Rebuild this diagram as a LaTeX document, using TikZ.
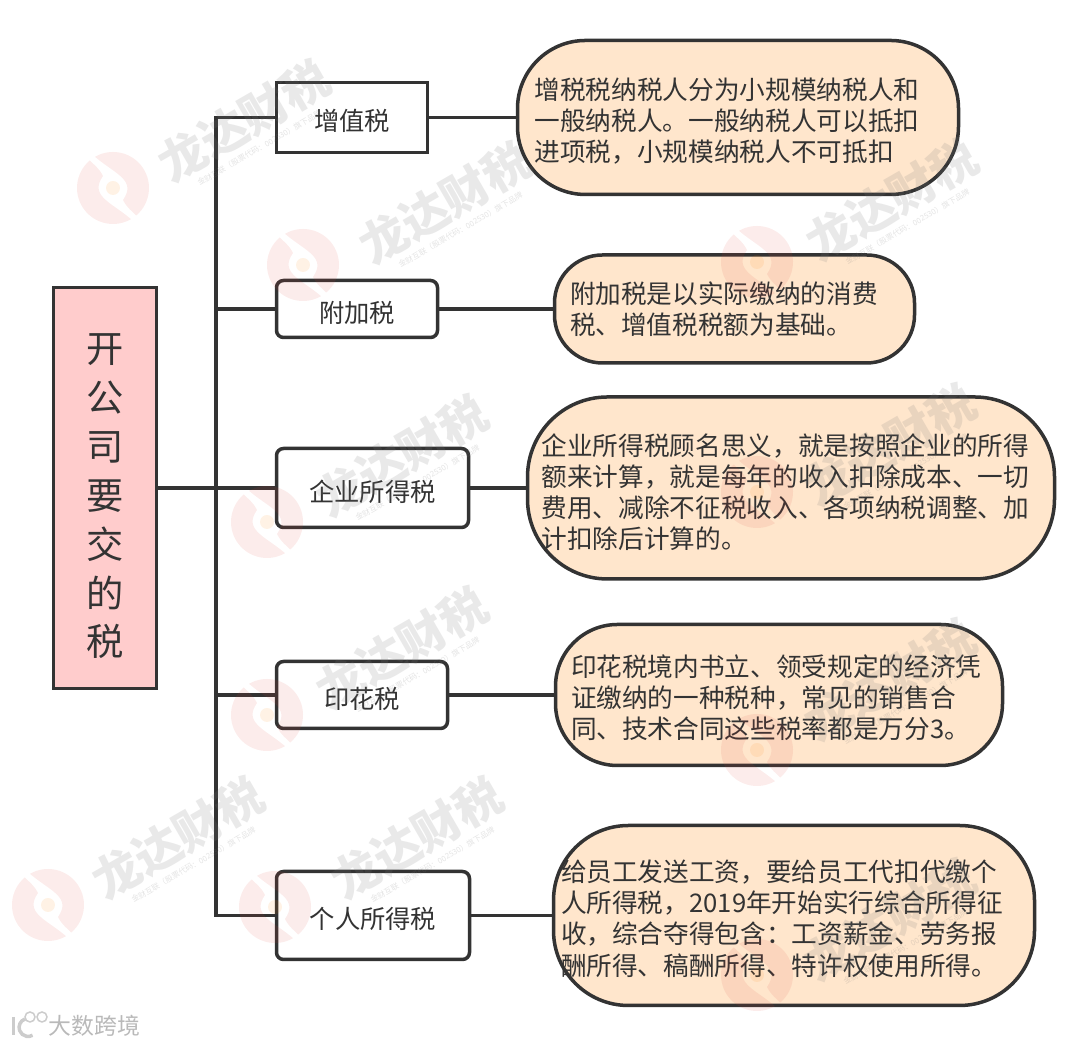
\documentclass[tikz,border=0pt]{standalone}
\usepackage{fontspec}
\setmainfont{Noto Sans CJK SC}
\usetikzlibrary{positioning,calc}
\definecolor{linedark}{RGB}{51,51,51}
\definecolor{rootpink}{RGB}{255,204,204}
\definecolor{notepeach}{RGB}{255,230,204}
\definecolor{wmgray}{RGB}{120,120,120}
\definecolor{wmred}{RGB}{225,70,60}
\tikzset{
  link/.style={draw=linedark,line width=0.035cm},
  rootbox/.style={draw=linedark,line width=0.035cm,fill=rootpink,text=linedark,inner sep=0pt,align=center,
    text height=3.36cm,text depth=0pt,font=\fontsize{10.6}{13.9}\selectfont},
  taxbox/.style={draw=linedark,line width=0.035cm,fill=white,text=linedark,inner sep=0pt,
    text height=0.27cm,text depth=0pt,font=\fontsize{7.2}{8.8}\selectfont},
  note/.style n args={4}{draw=linedark,line width=0.035cm,fill=notepeach,text=linedark,
    rounded corners=#1,inner xsep=#2,inner ysep=0pt,text width=#3,align=left,
    text height=0pt,text depth=#4,font=\fontsize{7.3}{8.85}\selectfont},
  wmtext/.style={text=wmgray,opacity=0.16,rotate=30,inner sep=0pt,font=\fontsize{13.4}{14}\selectfont\bfseries},
  wmsub/.style={text=wmgray,opacity=0.2,rotate=30,inner sep=1pt,anchor=north,font=\fontsize{2.2}{3}\selectfont},
  wmlogo/.pic={
    \fill[wmred,opacity=0.1] (130:0.36) arc (130:300:0.36) .. controls (-0.02,-0.14) and (-0.24,-0.08) .. (-0.1,0.12) .. controls (-0.14,0.2) and (-0.2,0.24) .. cycle;
    \fill[wmred,opacity=0.1] (-50:0.36) arc (-50:120:0.36) .. controls (0.02,0.14) and (0.24,0.08) .. (0.1,-0.12) .. controls (0.14,-0.2) and (0.2,-0.24) .. cycle;
    \fill[orange,opacity=0.1] (0,0) circle (0.07);
  }
}
\begin{document}
\begin{tikzpicture}
  \useasboundingbox (0,0) rectangle (10.8,10.46);
  % root box
  \node[rootbox,minimum width=1.03cm,minimum height=4.01cm] (root) at (1.05,5.58) {开\\公\\司\\要\\交\\的\\税};
  \coordinate (trunk) at (2.16,5.58);
  % tax boxes
  \node[taxbox,minimum width=1.51cm,minimum height=0.70cm] (vat) at (3.52,9.285) {增值税};
  \node[taxbox,rounded corners=2pt,minimum width=1.61cm,minimum height=0.57cm] (surtax) at (3.57,7.37) {附加税};
  \node[taxbox,rounded corners=2pt,minimum width=1.92cm,minimum height=0.79cm] (cit) at (3.725,5.58) {企业所得税};
  \node[taxbox,rounded corners=2pt,minimum width=1.71cm,minimum height=0.67cm] (stamp) at (3.62,3.51) {印花税};
  \node[taxbox,rounded corners=2pt,minimum width=1.93cm,minimum height=0.88cm] (iit) at (3.73,1.305) {个人所得税};
  % notes
  \node[note={0.68cm}{0.17cm}{4.07cm}{0.354cm},minimum height=1.54cm] (vatnote) at (7.38,9.285)
    {增税税纳税人分为小规模纳税人和\\一般纳税人。一般纳税人可以抵扣\\进项税，小规模纳税人不可抵扣};
  \node[note={0.48cm}{0.155cm}{3.29cm}{0.104cm},minimum height=1.08cm] (surtaxnote) at (7.345,7.37)
    {附加税是以实际缴纳的消费\\税、增值税税额为基础。};
  \node[note={0.8cm}{0.14cm}{4.99cm}{0.654cm},minimum height=1.82cm] (citnote) at (7.91,5.58)
    {企业所得税顾名思义，就是按照企业的所得\\额来计算，就是每年的收入扣除成本、一切\\费用、减除不征税收入、各项纳税调整、加\\计扣除后计算的。};
  \node[note={0.62cm}{0.155cm}{4.16cm}{0.364cm},minimum height=1.41cm] (stampnote) at (7.79,3.51)
    {印花税境内书立、领受规定的经济凭\\证缴纳的一种税种，常见的销售合\\同、技术合同这些税率都是万分3。};
  \node[note={0.75cm}{0.075cm}{4.66cm}{0.674cm},minimum height=1.80cm] (iitnote) at (7.94,1.305)
    {给员工发送工资，要给员工代扣代缴个\\人所得税，2019年开始实行综合所得征\\收，综合夺得包含：工资薪金、劳务报\\酬所得、稿酬所得、特许权使用所得。};
  % connectors
  \draw[link] (root) -- (trunk);
  \foreach \t in {vat,surtax,cit,stamp,iit}{
    \draw[link] (trunk) |- (\t);
    \draw[link] (\t) -- (\t note);
  }
  % watermarks
  \foreach \lx/\ly/\tx/\ty [count=\n] in {1.13/8.58/2.44/9.25,3.03/7.81/4.45/8.43,7.57/7.84/8.92/8.46,
      2.67/5.24/4.02/5.90,7.57/5.54/8.90/6.01,2.67/3.31/4.02/3.98,7.57/2.96/8.90/3.66,
      0.48/1.41/1.78/2.08,2.75/1.39/4.17/2.08,7.57/0.71/8.90/1.26}{
    \pic at (\lx,\ly) {wmlogo};
    \node[wmtext] (wm\n) at (\tx,\ty) {龙达财税};
    \node[wmsub] (wmsub\n) at (wm\n.south) {金财互联（股票代码：002530）旗下品牌};
  }
  % corner mark
  \node[text=gray!55,inner sep=0pt,font=\fontsize{6.5}{7}\selectfont] (mark) at (0.945,0.20) {大数跨境};
  \draw[gray!40,line width=0.03cm] (0.13,0.29) -- (0.13,0.11);
  \draw[gray!40,line width=0.035cm] (0.25,0.27) arc (110:300:0.09);
  \foreach \x in {0.30,0.42}{\draw[gray!40,line width=0.015cm] (\x,0.29) circle (0.05);}
\end{tikzpicture}
\end{document}
